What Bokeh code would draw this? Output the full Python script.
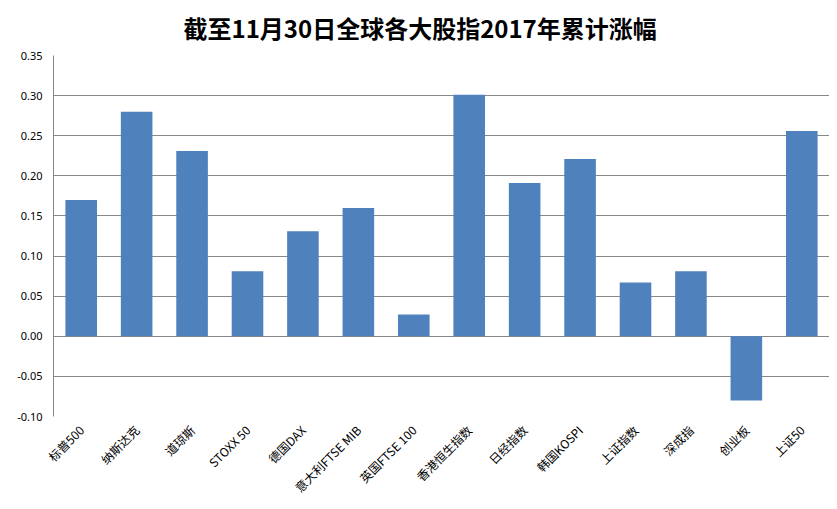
from bokeh.plotting import figure
from bokeh.models import FactorRange, Range1d, FixedTicker, NumeralTickFormatter
from bokeh.embed import file_html
from bokeh.resources import INLINE

categories = ["标普500", "纳斯达克", "道琼斯", "STOXX 50", "德国DAX", "意大利FTSE MIB",
              "英国FTSE 100", "香港恒生指数", "日经指数", "韩国KOSPI", "上证指数",
              "深成指", "创业板", "上证50"]
values = [0.170, 0.280, 0.231, 0.081, 0.131, 0.160, 0.027, 0.301, 0.191, 0.221,
          0.067, 0.081, -0.080, 0.256]
y_ticks = [-0.10, -0.05, 0.00, 0.05, 0.10, 0.15, 0.20, 0.25, 0.30, 0.35]

p = figure(x_range=FactorRange(*categories, range_padding=0), y_range=Range1d(-0.10, 0.35),
           width=829, height=504, output_backend="svg", toolbar_location=None,
           title="截至11月30日全球各大股指2017年累计涨幅",
           min_border_left=53, min_border_right=0, min_border_top=54, min_border_bottom=10)

p.vbar(x=categories, top=values, bottom=0, width=0.57, color="#4f81bd", line_color=None)

p.title.align = "left"
p.title.offset = 130
p.title.vertical_align = "top"
p.title.text_font = "Noto Sans CJK SC"
p.title.text_font_size = "24px"
p.title.text_font_style = "bold"
p.title.text_color = "#000000"
p.title.standoff = 18

p.outline_line_color = None
p.xgrid.grid_line_color = None
p.ygrid.grid_line_color = "#888888"
p.ygrid.grid_line_width = 1

p.yaxis.ticker = FixedTicker(ticks=y_ticks)
p.yaxis.formatter = NumeralTickFormatter(format="0.00")
p.yaxis.major_tick_line_color = None
p.yaxis.minor_tick_line_color = None
p.yaxis.axis_line_color = "#888888"
p.yaxis.major_label_text_font = "Noto Sans"
p.yaxis.major_label_text_font_size = "11px"
p.yaxis.major_label_text_color = "#000000"

p.xaxis.axis_line_color = None
p.xaxis.major_tick_line_color = None
p.xaxis.minor_tick_line_color = None
p.xaxis.major_label_orientation = 0.785
p.xaxis.major_label_text_font = "Noto Sans CJK SC"
p.xaxis.major_label_text_font_size = "12px"
p.xaxis.major_label_text_color = "#000000"

p.background_fill_color = "white"
p.border_fill_color = "white"

open("out.html", "w").write(file_html(p, INLINE))
